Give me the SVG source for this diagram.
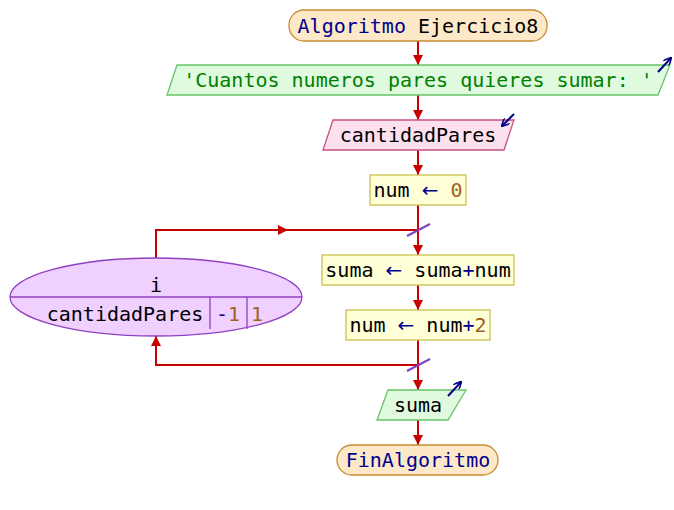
<svg xmlns="http://www.w3.org/2000/svg" width="674" height="510" viewBox="0 0 674 510">
<defs>
<marker id="ah" viewBox="0 0 10 10" refX="10" refY="5" markerWidth="10" markerHeight="10" markerUnits="userSpaceOnUse" orient="auto">
<path d="M0,0 L10,5 L0,10 z" fill="#c80000"/>
</marker>
<marker id="io" viewBox="0 0 10 10" refX="9" refY="5" markerWidth="8" markerHeight="8" markerUnits="userSpaceOnUse" orient="auto">
<path d="M0,0 L10,5 L0,10" fill="none" stroke="#000080" stroke-width="2"/>
</marker>
</defs>
<style>
text{font-family:"DejaVu Sans Mono",monospace;font-size:20px;text-anchor:middle}
.term{fill:#fde9c8;stroke:#c88a30;stroke-width:1.3}
.out{fill:#e0fae0;stroke:#66c466;stroke-width:1.3}
.inp{fill:#fde0ee;stroke:#c85080;stroke-width:1.3}
.proc{fill:#ffffd8;stroke:#c8c050;stroke-width:1.3}
.loop{fill:#f0d0ff;stroke:#9040c0;stroke-width:1.3}
.kw{fill:#000090}
.str{fill:#008000}
.num{fill:#a06020}
.op{fill:#000090}
.arr{fill:#000090;font-family:"DejaVu Sans",sans-serif}
.ed{stroke:#c80000;stroke-width:2;fill:none}
.slash{stroke:#8040c0;stroke-width:2}
.ioar{stroke:#000080;stroke-width:2}
</style>
<g id="connectors">
<path class="ed" d="M418,41 V65" marker-end="url(#ah)"/>
<path class="ed" d="M418,95 V120" marker-end="url(#ah)"/>
<path class="ed" d="M418,150 V175" marker-end="url(#ah)"/>
<path class="ed" d="M418,205 V255" marker-end="url(#ah)"/>
<path class="ed" d="M418,285 V310" marker-end="url(#ah)"/>
<path class="ed" d="M418,340 V390" marker-end="url(#ah)"/>
<path class="ed" d="M418,420 V445" marker-end="url(#ah)"/>
<path class="ed" d="M156,258 V230 H288" marker-end="url(#ah)"/>
<path class="ed" d="M288,230 H418"/>
<path class="ed" d="M418,365 H156 V336" marker-end="url(#ah)"/>
<line class="slash" x1="407" y1="236" x2="430" y2="224"/>
<line class="slash" x1="407" y1="371" x2="430" y2="359"/>
</g>
<g id="start">
<rect class="term" x="289" y="10" width="258" height="31" rx="15"/>
<text x="418" y="33"><tspan class="kw">Algoritmo</tspan> Ejercicio8</text>
</g>
<g id="write1">
<polygon class="out" points="177,65 670,65 658,95 167,95"/>
<text x="418" y="87" class="str">'Cuantos numeros pares quieres sumar: '</text>
<line class="ioar" x1="658" y1="72" x2="671" y2="58" marker-end="url(#io)"/>
</g>
<g id="read1">
<polygon class="inp" points="333,120 514,120 504,150 323,150"/>
<text x="418" y="142">cantidadPares</text>
<line class="ioar" x1="514" y1="114" x2="502" y2="126" marker-end="url(#io)"/>
</g>
<g id="assign1">
<rect class="proc" x="370" y="175" width="96" height="30"/>
<text x="418" y="197">num <tspan class="arr">←</tspan> <tspan class="num">0</tspan></text>
</g>
<g id="loop">
<ellipse class="loop" cx="156" cy="297" rx="146" ry="39"/>
<line x1="10" y1="297" x2="302" y2="297" stroke="#9040c0" stroke-width="1.3"/>
<line x1="210" y1="297" x2="210" y2="329" stroke="#9040c0" stroke-width="1.3"/>
<line x1="247" y1="297" x2="247" y2="329" stroke="#9040c0" stroke-width="1.3"/>
<text x="156" y="292">i</text>
<text x="125" y="321">cantidadPares</text>
<text x="228" y="321"><tspan class="op">-</tspan><tspan class="num">1</tspan></text>
<text x="257" y="321" class="num">1</text>
</g>
<g id="assign2">
<rect class="proc" x="322" y="255" width="192" height="30"/>
<text x="418" y="277">suma <tspan class="arr">←</tspan> suma<tspan class="op">+</tspan>num</text>
</g>
<g id="assign3">
<rect class="proc" x="346" y="310" width="144" height="30"/>
<text x="418" y="332">num <tspan class="arr">←</tspan> num<tspan class="op">+</tspan><tspan class="num">2</tspan></text>
</g>
<g id="write2">
<polygon class="out" points="388,390 466,390 448,420 377,420"/>
<text x="418" y="412">suma</text>
<line class="ioar" x1="448" y1="396" x2="461" y2="382" marker-end="url(#io)"/>
</g>
<g id="end">
<rect class="term" x="337" y="445" width="161" height="30" rx="15"/>
<text x="418" y="467" class="kw">FinAlgoritmo</text>
</g>
</svg>
